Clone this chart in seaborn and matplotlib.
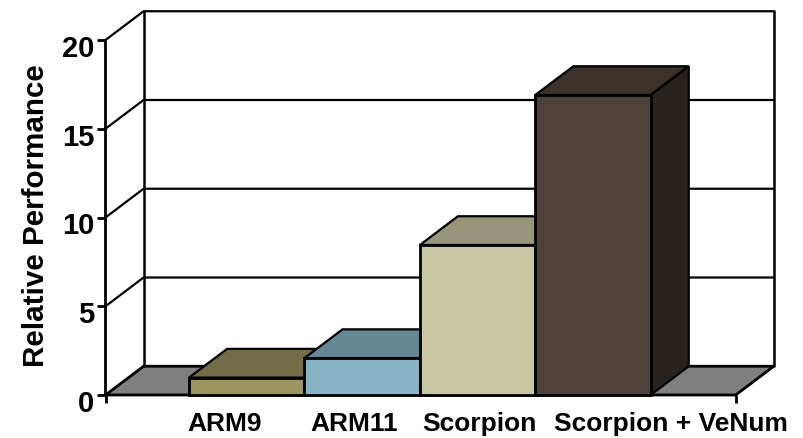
## Relative performance bars, drawn with a fake 3D box around them.
import matplotlib
matplotlib.use('Agg')
import matplotlib.pyplot as plt
import matplotlib.transforms as mtrans
from matplotlib.patches import Polygon, Rectangle
import seaborn as sns

categories = ['ARM9', 'ARM11', 'Scorpion', 'Scorpion + VeNum']
performance = [0.98, 2.08, 8.45, 16.9]
y_ticks = [0, 5, 10, 15, 20]

front_colors = ['#9C945E', '#87B3C5', '#C9C7A3', '#4D413A']
top_colors = ['#736C48', '#658693', '#97957A', '#3B322C']
side_colors = ['#57523A', '#4C656F', '#72715C', '#28231E']
label_shift = [-0.19, -0.07, 0.015, 0.68]

# Depth of the box, in data units.
DEPTH_X = 0.33
DEPTH_Y = 1.62
X_MIN, X_MAX = -1.224, 4.237
LW = 2.0

sns.set_style('white')
plt.rcParams['font.family'] = ['Liberation Sans', 'DejaVu Sans']
plt.rcParams['font.weight'] = 'bold'
plt.rcParams['text.color'] = 'black'
plt.rcParams['axes.labelcolor'] = 'black'
plt.rcParams['xtick.labelcolor'] = 'black'
plt.rcParams['ytick.labelcolor'] = 'black'

fig = plt.figure(figsize=(8.04, 4.38), dpi=100)
ax = fig.add_axes([105.5 / 804, 1 - 395 / 438, 630.2 / 804, 355 / 438])
sns.barplot(x=categories, y=performance, hue=categories, palette=front_colors, legend=False,
            width=1, saturation=1, edgecolor='black', linewidth=LW, ax=ax, zorder=4)
ax.set_xlim(X_MIN, X_MAX)
ax.set_ylim(0, 20)
bars = [p for p in ax.patches if isinstance(p, Rectangle)]

# Floor and back wall.
floor = Polygon([(X_MIN, 0), (X_MAX, 0), (X_MAX + DEPTH_X, DEPTH_Y), (X_MIN + DEPTH_X, DEPTH_Y)],
                facecolor='#808080', edgecolor='black', linewidth=LW, clip_on=False, zorder=1)
ax.add_patch(floor)
for tick in y_ticks[1:]:
    ax.plot([X_MIN, X_MIN + DEPTH_X, X_MAX + DEPTH_X], [tick, tick + DEPTH_Y, tick + DEPTH_Y],
            color='black', lw=LW * 0.8, clip_on=False, zorder=2)
for wall_x in [X_MIN + DEPTH_X, X_MAX + DEPTH_X]:
    ax.plot([wall_x, wall_x], [DEPTH_Y, 20 + DEPTH_Y], color='black', lw=LW * 0.9, clip_on=False, zorder=2)

# Top and side faces of the bars, each bar covers the one on its left.
for i, patch in enumerate(bars):
    x0, x1 = patch.get_x(), patch.get_x() + patch.get_width()
    h = patch.get_height()
    patch.set_zorder(3 + i + 0.5)
    patch.set_clip_on(False)
    top = Polygon([(x0, h), (x1, h), (x1 + DEPTH_X, h + DEPTH_Y), (x0 + DEPTH_X, h + DEPTH_Y)],
                  facecolor=top_colors[i], edgecolor='black', linewidth=LW * 0.8,
                  clip_on=False, zorder=3 + i + 0.2)
    side = Polygon([(x1, 0), (x1 + DEPTH_X, DEPTH_Y), (x1 + DEPTH_X, h + DEPTH_Y), (x1, h)],
                   facecolor=side_colors[i], edgecolor='black', linewidth=LW * 0.8,
                   clip_on=False, zorder=3 + i + 0.2)
    ax.add_patch(top)
    ax.add_patch(side)

# Axes.
sns.despine(ax=ax, top=True, right=True, bottom=True)
ax.spines['left'].set_linewidth(LW)
ax.spines['left'].set_color('black')
ax.set_yticks(y_ticks)
ax.tick_params(axis='y', left=True, length=6, width=LW, color='black', labelsize=21, pad=2)
down = mtrans.ScaledTranslation(0, -6 / 100, fig.dpi_scale_trans)
for label in ax.get_yticklabels():
    label.set_transform(label.get_transform() + down)

ax.set_xticks([i + s for i, s in enumerate(label_shift)], categories)
ax.tick_params(axis='x', bottom=False, length=0, labelsize=19, pad=12)
ax.set_xticks([X_MIN, X_MAX], minor=True)
ax.tick_params(axis='x', which='minor', bottom=True, length=6, width=LW, color='black')
ax.set_ylabel('Relative Performance', fontsize=21.3, fontweight='bold', color='black')
ax.yaxis.set_label_coords(-0.088, 0.505)

fig.savefig('out.png', dpi=100)
